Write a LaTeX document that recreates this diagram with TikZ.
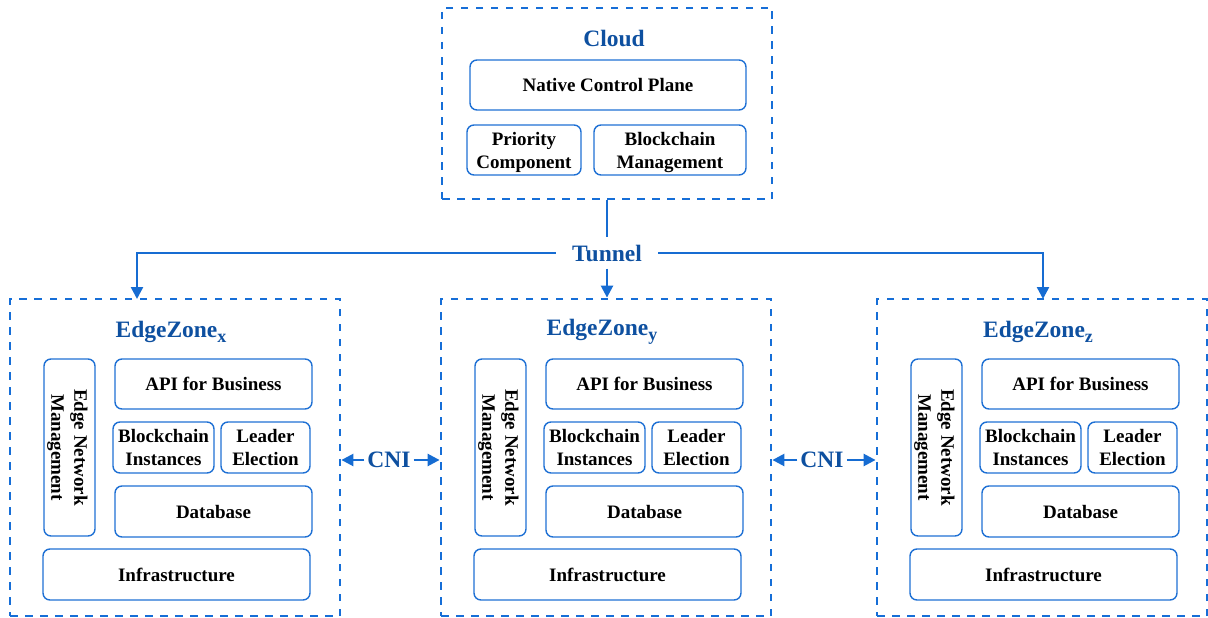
\documentclass[tikz,border=0pt]{standalone}
\usepackage{fontspec}
\setmainfont{Liberation Serif}
\usetikzlibrary{arrows.meta}
\definecolor{dashblue}{RGB}{22,110,215}
\definecolor{titleblue}{RGB}{14,80,160}
\definecolor{boxblue}{RGB}{30,112,212}
\definecolor{arrowblue}{RGB}{22,108,210}
\begin{document}
\begin{tikzpicture}[x=1pt,y=-1pt,
  zone/.style={draw=dashblue, line width=2.8pt, dash pattern=on 7.5pt off 7.5pt, inner sep=0pt},
  part/.style={draw=boxblue, line width=1.4pt, rounded corners=7pt, align=center, inner sep=0pt,
    text depth=0pt, font=\fontsize{19}{23}\selectfont\bfseries},
  ttl/.style={text=titleblue, font=\fontsize{23.5}{26}\selectfont\bfseries, inner sep=0pt},
  conn/.style={draw=arrowblue, line width=2.5pt},
  arr/.style={conn, -{Triangle[length=12pt,width=12pt]}}
]
\useasboundingbox (0,0) rectangle (1208,618);

% Cloud
\node[zone, minimum width=330pt, minimum height=191pt] (cloud) at (607,103.5) {};
\node[ttl] (cloudt) at (614,38) {Cloud};
\node[part, minimum width=276pt, minimum height=50pt] (ncp) at (608,85) {Native Control Plane};
\node[part, minimum width=114pt, minimum height=50pt] (prio) at (524,150) {Priority\\Component};
\node[part, minimum width=152pt, minimum height=50pt] (bcm) at (670,150) {Blockchain\\Management};

% Edge zones
\foreach \n/\d in {x/0, y/431, z/867} {
  \node[zone, minimum width=330pt, minimum height=317pt] (zone\n) at (175+\d,457.5) {};
  \node[ttl] (title\n) at (171+\d,332) {EdgeZone\raisebox{-5pt}{\fontsize{18}{18}\selectfont\n}};
  \node[part, rotate=-90, minimum width=177pt, minimum height=51pt] (enm\n) at (69.5+\d,447.5) {Edge Network\\Management};
  \node[part, minimum width=197pt, minimum height=50pt] (api\n) at (213.5+\d,384) {API for Business};
  \node[part, minimum width=101pt, minimum height=51pt] (bci\n) at (163.5+\d,447.5) {Blockchain\\Instances};
  \node[part, minimum width=89pt, minimum height=51pt] (le\n) at (265.5+\d,447.5) {Leader\\Election};
  \node[part, minimum width=197pt, minimum height=51pt] (db\n) at (213.5+\d,511.5) {Database};
  \node[part, minimum width=267pt, minimum height=51pt] (inf\n) at (176.5+\d,574.5) {Infrastructure};
}

% Tunnel
\node[ttl, inner xsep=16pt, minimum height=31pt] (tunnel) at (607,253) {Tunnel};
\coordinate (tx) at (137,299);
\coordinate (tz) at (1043,299);
\draw[conn] (cloud.south) -- (tunnel.north);
\draw[arr] (tunnel.south) -- (tunnel.south |- zoney.north);
\draw[arr] (tunnel.west) -| (tx);
\draw[arr] (tunnel.east) -| (tz);

% CNI
\node[ttl, inner xsep=3pt] (cni1) at (389,460) {CNI};
\node[ttl, inner xsep=3pt] (cni2) at (822,460) {CNI};
\draw[arr] (cni1.west) -- (cni1.west -| zonex.east);
\draw[arr] (cni1.east) -- (cni1.east -| zoney.west);
\draw[arr] (cni2.west) -- (cni2.west -| zoney.east);
\draw[arr] (cni2.east) -- (cni2.east -| zonez.west);
\end{tikzpicture}
\end{document}
